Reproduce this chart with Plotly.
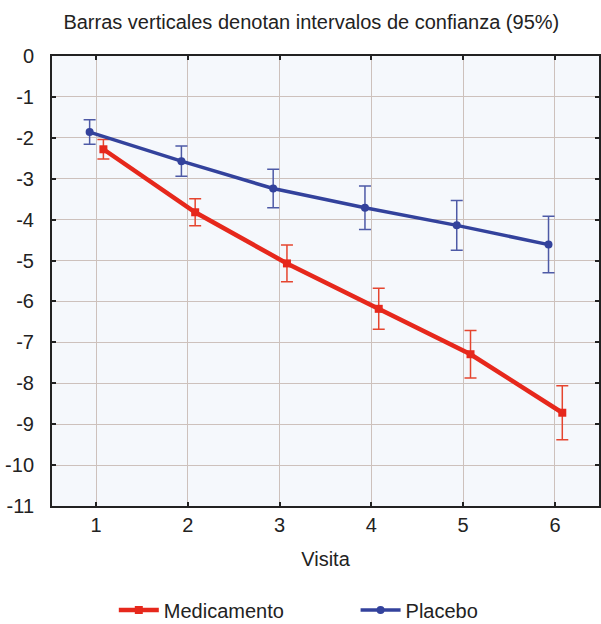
import plotly.graph_objects as go

visits = [1, 2, 3, 4, 5, 6]
x_tick_labels = ["1", "2", "3", "4", "5", "6"]
y_ticks = [0, -1, -2, -3, -4, -5, -6, -7, -8, -9, -10, -11]
y_tick_labels = ["0", "-1", "-2", "-3", "-4", "-5", "-6", "-7", "-8", "-9", "-10", "-11"]

medicamento_mean = [-2.28, -3.82, -5.07, -6.18, -7.29, -8.72]
medicamento_ci = [0.24, 0.33, 0.45, 0.50, 0.58, 0.66]

placebo_mean = [-1.86, -2.57, -3.24, -3.71, -4.14, -4.61]
placebo_ci = [0.30, 0.37, 0.47, 0.53, 0.61, 0.69]

title_text = "Barras verticales denotan intervalos de confianza (95%)"
x_title = "Visita"

RED = "#e6281c"
RED_ERR = "#e5452f"
BLUE = "#33429c"
BLUE_ERR = "#4e5aa6"
OFFSET_MED = 0.08
OFFSET_PLA = -0.07
FONT = "Liberation Sans, Arial, sans-serif"
TXT = "#222222"

fig = go.Figure()
fig.add_trace(go.Scatter(
    x=[v + OFFSET_MED for v in visits], y=medicamento_mean, name="Medicamento",
    mode="lines+markers",
    line=dict(color=RED, width=4.5),
    marker=dict(symbol="square", size=8, color=RED),
    error_y=dict(type="data", array=medicamento_ci, visible=True, color=RED_ERR, thickness=1.5, width=6),
    legend="legend",
))
fig.add_trace(go.Scatter(
    x=[v + OFFSET_PLA for v in visits], y=placebo_mean, name="Placebo",
    mode="lines+markers",
    line=dict(color=BLUE, width=3.5),
    marker=dict(symbol="circle", size=8, color=BLUE),
    error_y=dict(type="data", array=placebo_ci, visible=True, color=BLUE_ERR, thickness=1.5, width=6),
    legend="legend2",
))

axis_common = dict(
    showline=True, linecolor="#222222", linewidth=2, mirror="ticks",
    ticks="inside", ticklen=4, tickcolor="#222222", tickwidth=2,
    showgrid=True, gridcolor="#cdc1bc", gridwidth=1.3, zeroline=False,
    tickfont=dict(family=FONT, size=20, color=TXT), automargin=False,
)

legend_common = dict(orientation="h", xanchor="left", yref="container", y=0.0224, yanchor="middle",
                     font=dict(family=FONT, size=20, color=TXT), itemwidth=40,
                     bgcolor="rgba(0,0,0,0)")

fig.update_layout(
    width=601, height=624,
    margin=dict(l=52, r=2, t=56, b=118),
    paper_bgcolor="white",
    plot_bgcolor="#f5f8fc",
    font=dict(family=FONT, color=TXT),
    title=dict(text=title_text, x=0.518, xanchor="center", y=0.965, yanchor="middle",
               yref="container", font=dict(family=FONT, size=20, color=TXT)),
    xaxis=dict(range=[0.52, 6.48], tickvals=visits, ticktext=x_tick_labels,
               title=dict(text=x_title, font=dict(family=FONT, size=20, color=TXT), standoff=17),
               ticklabelstandoff=0, **axis_common),
    yaxis=dict(range=[-11, 0], tickvals=y_ticks, ticktext=y_tick_labels,
               ticklabelstandoff=12, **axis_common),
    showlegend=True,
    legend=dict(x=0.113, **legend_common),
    legend2=dict(x=0.555, **legend_common),
)

fig.write_html("out.html", config={"displayModeBar": False},
               post_script="document.body.style.margin='0';document.body.style.padding='0';")
